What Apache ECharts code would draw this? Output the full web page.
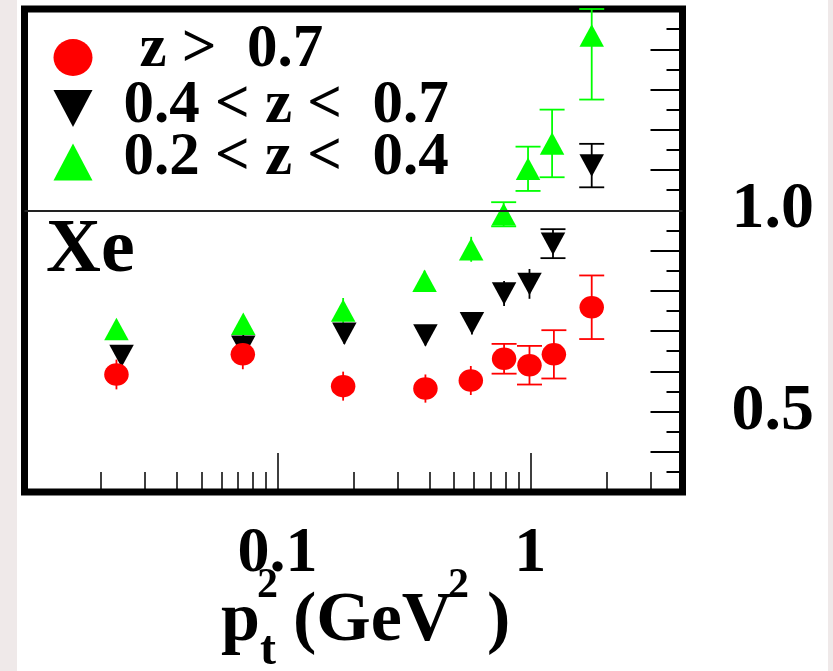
<!DOCTYPE html>
<html>
<head>
<meta charset="utf-8">
<script src="https://cdn.jsdelivr.net/npm/echarts@6/dist/echarts.min.js"></script>
<style>
html,body{margin:0;padding:0;}
body{width:833px;height:671px;background:linear-gradient(to right,#efe9e9 0,#efe9e9 17px,#ffffff 17px,#ffffff 828px,#efe9e9 828px);}
#chart{width:833px;height:671px;}
</style>
</head>
<body>
<div id="chart"></div>
<script>
// ---- data ----
const seriesNames = ['z >  0.7', '0.4 < z <  0.7', '0.2 < z <  0.4'];

const xRed   = [0.0231, 0.0730, 0.182, 0.385, 0.582, 0.788, 0.993, 1.24, 1.75];
const yRed   = [0.592, 0.642, 0.563, 0.557, 0.577, 0.631, 0.615, 0.642, 0.759];
const eRed   = [0.037, 0.037, 0.036, 0.035, 0.036, 0.037, 0.048, 0.060, 0.079];

const xBlack = [0.0242, 0.0733, 0.184, 0.385, 0.588, 0.788, 0.993, 1.23, 1.75];
const yBlack = [0.638, 0.661, 0.693, 0.689, 0.719, 0.793, 0.817, 0.917, 1.111];
const eBlack = [0.020, 0.030, 0.025, 0.025, 0.028, 0.031, 0.037, 0.036, 0.054];

const xGreen = [0.0231, 0.0733, 0.182, 0.382, 0.584, 0.785, 0.980, 1.22, 1.75];
const yGreen = [0.705, 0.718, 0.751, 0.825, 0.903, 0.990, 1.103, 1.166, 1.434];
const eGreen = [0.020, 0.020, 0.031, 0.025, 0.031, 0.030, 0.055, 0.084, 0.159];

const xRange = [0.01, 4];
const yRange = [0.3, 1.5];
const xMajorTicks = [0.1, 1];
const xTickLabels = ['0.1', '1'];
const xMinorTicks = [0.02,0.03,0.04,0.05,0.06,0.07,0.08,0.09,0.2,0.3,0.4,0.5,0.6,0.7,0.8,0.9,2,3];
const yLabelValues = [0.5, 1.0];
const yTickLabels = ['0.5', '1.0'];
const refLineValue = 1.0;
const panelLabel = 'Xe';

// ---- styling ----
const SERIF = '"Liberation Serif", "Times New Roman", serif';
const RED = '#ff0000', BLACK = '#000000', GREEN = '#00ff00';
const ELLIPSE = 'path://M0,1 A1,1 0 1,1 2,1 A1,1 0 1,1 0,1 Z';
const DOWN = 'path://M0,0 L2,0 L1,2 Z';
const UP = 'path://M1,0 L2,2 L0,2 Z';

function errSeries(name, xs, ys, es, color, capFrom) {
  return {
    name: name,
    type: 'custom',
    clip: false,
    silent: true,
    data: xs.map((x, i) => [x, ys[i], es[i]]),
    renderItem: function (params, api) {
      const x = api.value(0), y = api.value(1), e = api.value(2);
      const hi = Math.min(y + e, yRange[1]);
      const lo = Math.max(y - e, yRange[0]);
      const p1 = api.coord([x, hi]);
      const p2 = api.coord([x, lo]);
      const st = { stroke: color, lineWidth: 1.8 };
      const children = [{ type: 'line', shape: { x1: p1[0], y1: p1[1], x2: p2[0], y2: p2[1] }, style: st }];
      if (params.dataIndex >= capFrom) {
        const w = 12.5;
        children.push({ type: 'line', shape: { x1: p1[0] - w, y1: p1[1], x2: p1[0] + w, y2: p1[1] }, style: st });
        children.push({ type: 'line', shape: { x1: p2[0] - w, y1: p2[1], x2: p2[0] + w, y2: p2[1] }, style: st });
      }
      return { type: 'group', children: children };
    }
  };
}

function markerSeries(name, xs, ys, color, symbol, extra) {
  const s = {
    name: name,
    type: 'scatter',
    symbol: symbol,
    symbolSize: [24.5, 22.5],
    itemStyle: { color: color, opacity: 1 },
    emphasis: { disabled: true },
    data: xs.map((x, i) => [x, ys[i]])
  };
  return Object.assign(s, extra || {});
}

function legendRow(name, icon, top, padLeft, padBottom) {
  return {
    orient: 'vertical',
    left: 53.5, top: top, padding: 0,
    itemWidth: 39, itemHeight: 37, itemGap: 0,
    selectedMode: false,
    symbolKeepAspect: false,
    data: [{ name: name, icon: icon }],
    formatter: function (n) { return '{a|' + n + '}'; },
    textStyle: {
      fontFamily: SERIF, fontWeight: 'bold', fontSize: 61, color: '#000', lineHeight: 54,
      rich: {
        a: { fontFamily: SERIF, fontWeight: 'bold', fontSize: 61, color: '#000', lineHeight: 54, padding: [0, 0, padBottom, padLeft] }
      }
    }
  };
}

const chart = echarts.init(document.getElementById('chart'), null, { renderer: 'canvas' });

const labelFont = { fontFamily: SERIF, fontWeight: 'bold', color: '#000' };

const option = {
  animation: false,
  backgroundColor: 'transparent',
  title: {
    text: panelLabel,
    left: 46, top: 213, padding: 0,
    textStyle: { fontFamily: SERIF, fontWeight: 'bold', fontSize: 76, color: '#000', lineHeight: 76 }
  },
  grid: {
    left: 24.5, top: 9, right: 150.5, bottom: 179,
    show: true, backgroundColor: '#ffffff', borderColor: '#000', borderWidth: 7
  },
  legend: [
    legendRow(seriesNames[0], ELLIPSE, 20, 42, 14),
    legendRow(seriesNames[1], DOWN, 76, 26, 4),
    legendRow(seriesNames[2], UP, 128, 26, 7)
  ],
  xAxis: [
    {
      type: 'log', logBase: 10, min: xRange[0], max: xRange[1], position: 'bottom',
      axisLine: { show: false, onZero: false },
      splitLine: { show: false },
      axisTick: { show: true, inside: true, length: 39, customValues: xMajorTicks, lineStyle: { color: '#000', width: 1.5 } },
      axisLabel: {
        show: true, customValues: xMajorTicks, margin: 30, fontSize: 64, ...labelFont,
        formatter: function (v) {
          let best = 0;
          xMajorTicks.forEach((t, i) => { if (Math.abs(Math.log10(t) - Math.log10(v)) < Math.abs(Math.log10(xMajorTicks[best]) - Math.log10(v))) best = i; });
          return xTickLabels[best];
        }
      }
    },
    {
      type: 'log', logBase: 10, min: xRange[0], max: xRange[1], position: 'bottom',
      axisLine: { show: false, onZero: false },
      splitLine: { show: false },
      axisTick: { show: true, inside: true, length: 20, customValues: xMinorTicks, lineStyle: { color: '#000', width: 1.5 } },
      axisLabel: { show: false }
    }
  ],
  yAxis: [
    {
      type: 'value', min: yRange[0], max: yRange[1], interval: 0.1, position: 'right',
      axisLine: { show: false, onZero: false },
      splitLine: { show: false },
      axisTick: { show: true, inside: true, length: 32, lineStyle: { color: '#000', width: 2 } },
      axisLabel: {
        show: true, customValues: yLabelValues, margin: 49, fontSize: 66, ...labelFont,
        formatter: function (v) {
          let best = 0;
          yLabelValues.forEach((t, i) => { if (Math.abs(t - v) < Math.abs(yLabelValues[best] - v)) best = i; });
          return yTickLabels[best];
        }
      }
    },
    {
      type: 'value', min: yRange[0], max: yRange[1], interval: 0.05, position: 'right',
      axisLine: { show: false, onZero: false },
      splitLine: { show: false },
      axisTick: { show: true, inside: true, length: 16, lineStyle: { color: '#000', width: 2 } },
      axisLabel: { show: false }
    }
  ],
  series: [
    errSeries('errBlack', xBlack, yBlack, eBlack, BLACK, 7),
    markerSeries(seriesNames[1], xBlack, yBlack, BLACK, DOWN, {
      markLine: {
        silent: true, symbol: ['none', 'none'], label: { show: false },
        lineStyle: { color: '#222', width: 2, type: 'solid' },
        data: [{ yAxis: refLineValue }]
      }
    }),
    errSeries('errGreen', xGreen, yGreen, eGreen, GREEN, 5),
    markerSeries(seriesNames[2], xGreen, yGreen, GREEN, UP),
    errSeries('errRed', xRed, yRed, eRed, RED, 5),
    markerSeries(seriesNames[0], xRed, yRed, RED, ELLIPSE)
  ],
  graphic: [
    { type: 'text', x: 221, y: 622, style: { text: 'p', fontFamily: SERIF, fontWeight: 'bold', fontSize: 70, fill: '#000', verticalAlign: 'middle' } },
    { type: 'text', x: 257, y: 586, style: { text: '2', fontFamily: SERIF, fontWeight: 'bold', fontSize: 42, fill: '#000', verticalAlign: 'middle' } },
    { type: 'text', x: 260, y: 652, style: { text: 't', fontFamily: SERIF, fontWeight: 'bold', fontSize: 48, fill: '#000', verticalAlign: 'middle' } },
    { type: 'text', x: 293, y: 622, style: { text: '(GeV', fontFamily: SERIF, fontWeight: 'bold', fontSize: 70, fill: '#000', verticalAlign: 'middle' } },
    { type: 'text', x: 448, y: 586, style: { text: '2', fontFamily: SERIF, fontWeight: 'bold', fontSize: 42, fill: '#000', verticalAlign: 'middle' } },
    { type: 'text', x: 487, y: 622, style: { text: ')', fontFamily: SERIF, fontWeight: 'bold', fontSize: 70, fill: '#000', verticalAlign: 'middle' } }
  ]
};
chart.setOption(option);
</script>
</body>
</html>
